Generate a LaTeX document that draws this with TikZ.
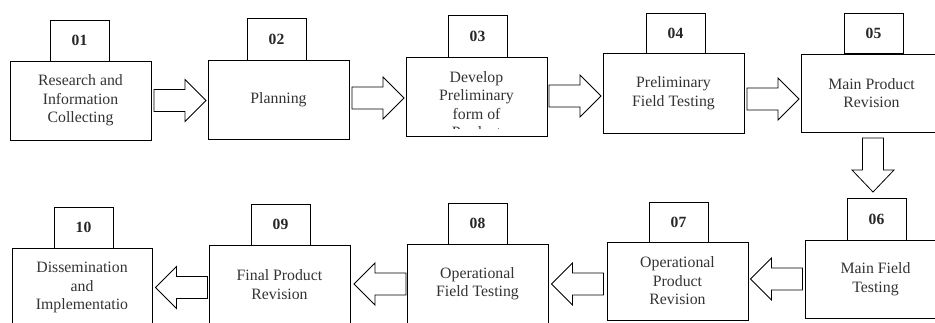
\documentclass[tikz,border=0pt]{standalone}
\usepackage{fontspec}
\setmainfont{Liberation Serif}
\begin{document}
\begin{tikzpicture}[x=1pt,y=-1pt,
  mainbox/.style={draw=black,line width=0.9pt,minimum width=141pt,minimum height=79pt,inner sep=0pt,outer sep=0pt,align=center,text=black!80,font=\fontsize{15.8}{18.5}\selectfont},
  numbox/.style={draw=black,line width=0.9pt,minimum width=59pt,minimum height=41pt,inner sep=0pt,outer sep=0pt,font=\fontsize{15.6}{18}\selectfont\bfseries,text=black!85},
  bodytext/.style={align=center,text=black!80,font=\fontsize{15.8}{18.5}\selectfont,inner sep=0pt},
  blockarrow/.pic={\draw[line width=0.8pt,fill=white] (-26,-11) -- (5,-11) -- (5,-21) -- (26,0) -- (5,21) -- (5,11) -- (-26,11) -- cycle;},
  longarrow/.pic={\draw[line width=0.8pt,fill=white] (-27,-10.5) -- (5,-10.5) -- (5,-21) -- (27,0) -- (5,21) -- (5,10.5) -- (-27,10.5) -- cycle;}]
\useasboundingbox (0,0) rectangle (935,322);
\clip (0,0) rectangle (935,322);
% row 1
\node[mainbox] (b1) at (80.5,100.5) {Research and\\Information\\Collecting};
\node[numbox] (n1) at (79.5,40.5) {01};
\node[mainbox] (b2) at (278.5,99.5) {Planning};
\node[numbox,minimum height=42pt] (n2) at (276.5,39) {02};
\node[mainbox] (b3) at (476.5,96.5) {};
\node[numbox,minimum height=42pt] (n3) at (477.5,36) {03};
\begin{scope}
\clip (406,57) rectangle (547,128.5);
\node[bodytext] (t3) at (476.5,104.5) {Develop\\Preliminary\\form of\\Product};
\end{scope}
\node[mainbox,minimum height=80pt] (b4) at (673.5,93) {Preliminary\\Field Testing};
\node[numbox,minimum height=40pt] (n4) at (675.5,33) {04};
\node[mainbox,minimum height=78pt] (b5) at (871.5,93) {Main Product\\Revision};
\node[numbox,minimum height=40pt] (n5) at (873.5,33) {05};
% row 2
\node[mainbox,minimum height=78pt] (b6) at (875.5,279) {Main Field\\Testing};
\node[numbox,minimum height=42pt] (n6) at (876.5,219) {06};
\node[mainbox,minimum height=78pt] (b7) at (677.5,281) {Operational\\Product\\Revision};
\node[numbox,minimum height=40pt] (n7) at (678.5,222) {07};
\node[mainbox] (b8) at (477.5,283.5) {Operational\\Field Testing};
\node[numbox] (n8) at (477.5,223.5) {08};
\node[mainbox] (b9) at (279.5,284.5) {Final Product\\Revision};
\node[numbox] (n9) at (280.5,224.5) {09};
\node[mainbox,minimum width=140pt] (b10) at (82,287.5) {Dissemination\\and\\Implementatio};
\node[numbox] (n10) at (83.5,227.5) {10};
% block arrows
\pic (a1) at (180,100.5) {blockarrow};
\pic (a2) at (378,98) {blockarrow};
\pic (a3) at (575,96) {blockarrow};
\pic (a4) at (773,99) {blockarrow};
\pic[rotate=-90] (a5) at (873,165) {longarrow};
\pic[rotate=180] (a6) at (776.5,279) {blockarrow};
\pic[rotate=180] (a7) at (577.5,284) {blockarrow};
\pic[rotate=180] (a8) at (380,284) {blockarrow};
\pic[rotate=180] (a9) at (181.5,287.5) {blockarrow};
\end{tikzpicture}
\end{document}
